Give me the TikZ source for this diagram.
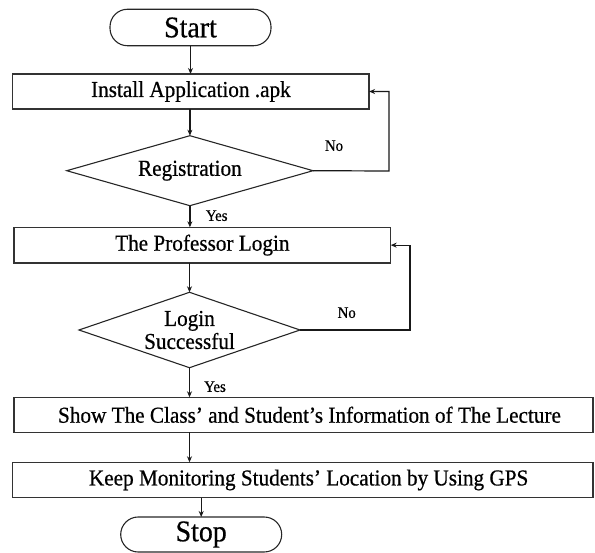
\documentclass[tikz,border=0pt]{standalone}
\usepackage{fontspec}
\setmainfont[FakeStretch=0.93,FakeBold=0.6]{Liberation Serif}
\usetikzlibrary{shapes.geometric,arrows.meta}
\begin{document}
\begin{tikzpicture}[x=1pt,y=-1pt,
  every node/.style={inner sep=0pt,outer sep=0pt},
  box/.style={draw=black!80,line width=1.2pt,rectangle,font=\fontsize{22.8}{25}\selectfont},
  term/.style={draw=black!85,line width=1.1pt,rectangle,rounded corners=17.5pt,minimum width=161pt,font=\fontsize{30}{32}\selectfont},
  dec/.style={draw=black!85,line width=1.1pt,diamond,aspect=3.2,align=center,font=\fontsize{22.8}{25}\selectfont},
  arr/.style={draw=black!90,line width=1.2pt,-{Stealth[length=6pt,width=5pt]}},
  lab/.style={font=\fontsize{16}{18}\selectfont}]
\useasboundingbox (0,0) rectangle (595,553);
\node[term,minimum height=36.5pt] (start) at (190.5,27.5) {Start};
\node[box,minimum width=356.3pt,minimum height=35pt] (install) at (190.9,91.5) {Install Application .apk};
\node[dec,minimum width=246.3pt,minimum height=70pt] (reg) at (189.9,170.7) {Registration};
\node[box,minimum width=376.7pt,minimum height=35.7pt] (prof) at (202.35,245.15) {The Professor Login};
\node[dec,minimum width=221pt,minimum height=75.4pt] (login) at (189.5,330) {Login\\[-2pt]Successful};
\node[box,minimum width=579pt,minimum height=35pt] (show) at (303.5,414.8) {\hspace*{12pt}Show The Class' and Student's Information of The Lecture};
\node[box,minimum width=580.7pt,minimum height=35.4pt] (keep) at (302.65,480) {\hspace*{12pt}Keep Monitoring Students' Location by Using GPS};
\node[term,minimum height=35pt] (stop) at (201.2,534.5) {Stop};
\coordinate (loopa) at (389,171);
\coordinate (loopb) at (410,330);
\draw[arr] (start.south) -- (start.south |- install.north);
\draw[arr] (reg.north |- install.south) -- (reg.north);
\draw[arr] (reg.south) -- (reg.south |- prof.north);
\draw[arr] (reg.east) -- (loopa) |- (install.east);
\draw[arr] (login.north |- prof.south) -- (login.north);
\draw[arr] (login.east) -- (loopb) |- (prof.east);
\draw[arr] (login.south) -- (login.south |- show.north);
\draw[arr] (login.south |- show.south) -- (login.south |- keep.north);
\draw[arr] (stop.north |- keep.south) -- (stop.north);
\node[lab] (yes1) at (216.7,215.7) {Yes};
\node[lab] (no1) at (334,145.7) {No};
\node[lab] (yes2) at (215,386.7) {Yes};
\node[lab] (no2) at (346.7,312.7) {No};
\end{tikzpicture}
\end{document}
